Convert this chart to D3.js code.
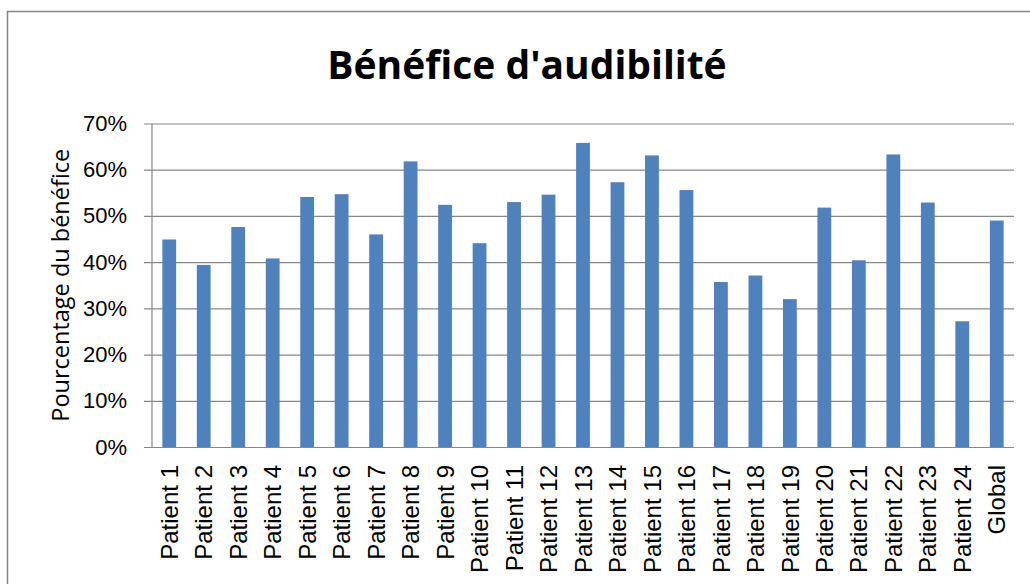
<!DOCTYPE html>
<html>
<head>
<meta charset="utf-8">
<script src="https://cdn.jsdelivr.net/npm/d3@7"></script>
<style>
  html, body { margin: 0; padding: 0; background: #fff; }
  svg { display: block; font-family: "Open Sans", "Liberation Sans", sans-serif; }
</style>
</head>
<body>
<svg id="chart" width="1030" height="584"></svg>
<script>
// Categories and benefit values (fraction)
const categories = [
  "Patient 1", "Patient 2", "Patient 3", "Patient 4", "Patient 5", "Patient 6",
  "Patient 7", "Patient 8", "Patient 9", "Patient 10", "Patient 11", "Patient 12",
  "Patient 13", "Patient 14", "Patient 15", "Patient 16", "Patient 17", "Patient 18",
  "Patient 19", "Patient 20", "Patient 21", "Patient 22", "Patient 23", "Patient 24",
  "Global"
];
const benefit = [
  0.449, 0.394, 0.476, 0.408, 0.541, 0.547,
  0.460, 0.618, 0.524, 0.441, 0.530, 0.546,
  0.658, 0.573, 0.631, 0.556, 0.357, 0.371,
  0.320, 0.518, 0.404, 0.633, 0.529, 0.272,
  0.490
];
const yTicks = [0, 0.1, 0.2, 0.3, 0.4, 0.5, 0.6, 0.7];

const titleText = "Bénéfice d'audibilité";
const yTitleText = "Pourcentage du bénéfice";

const svg = d3.select("#chart");
const plot = { left: 152, right: 1014, top: 123.5, bottom: 447 };

// Chart frame
svg.append("path")
  .attr("d", `M7.5,600 V11.5 H1040`)
  .attr("fill", "none")
  .attr("stroke", "#868686")
  .attr("stroke-width", 1.5);

const x = d3.scaleBand()
  .domain(categories)
  .range([plot.left, plot.right])
  .paddingInner(0.6)
  .paddingOuter(0.3);

const y = d3.scaleLinear()
  .domain([0, 0.7])
  .range([plot.bottom, plot.top]);

// Horizontal gridlines and y-axis labels
const yAxis = d3.axisLeft(y)
  .tickValues(yTicks)
  .tickFormat(d3.format(".0%"))
  .tickSize(-(plot.right - plot.left) - 8)
  .tickPadding(8);

const gy = svg.append("g")
  .attr("transform", `translate(${plot.left - 8},0)`)
  .call(yAxis);
gy.select(".domain").remove();
gy.selectAll(".tick line")
  .attr("stroke", "#888")
  .attr("stroke-width", 1.2);
gy.selectAll(".tick text")
  .attr("x", -17)
  .attr("fill", "#000")
  .style("font-size", "22px");

// Vertical axis line
svg.append("line")
  .attr("x1", plot.left).attr("x2", plot.left)
  .attr("y1", plot.top).attr("y2", plot.bottom)
  .attr("stroke", "#888").attr("stroke-width", 1.2);

// Bars
svg.append("g")
  .selectAll("rect")
  .data(categories)
  .join("rect")
  .attr("x", d => x(d))
  .attr("width", x.bandwidth())
  .attr("y", (d, i) => y(benefit[i]))
  .attr("height", (d, i) => y(0) - y(benefit[i]))
  .attr("fill", "#4F81BD");

// Category axis
const xAxis = d3.axisBottom(x).tickSize(0).tickPadding(0);
const gx = svg.append("g")
  .attr("transform", `translate(0,${plot.bottom})`)
  .call(xAxis);
gx.select(".domain")
  .attr("d", `M${plot.left},0.5H${plot.right}`)
  .attr("stroke", "#888")
  .attr("stroke-width", 1.2);
gx.selectAll(".tick text")
  .attr("transform", "rotate(-90)")
  .attr("text-anchor", "end")
  .attr("x", -18)
  .attr("y", 0)
  .attr("dy", "0.36em")
  .attr("fill", "#000")
  .style("font-size", "24px");

// Title
svg.append("text")
  .attr("x", 527)
  .attr("y", 79)
  .attr("text-anchor", "middle")
  .style("font-size", "39px")
  .style("font-weight", "bold")
  .text(titleText);

// Y-axis title
svg.append("text")
  .attr("transform", `translate(69,${(plot.top + plot.bottom) / 2}) rotate(-90)`)
  .attr("text-anchor", "middle")
  .style("font-size", "23.5px")
  .text(yTitleText);
</script>
</body>
</html>
